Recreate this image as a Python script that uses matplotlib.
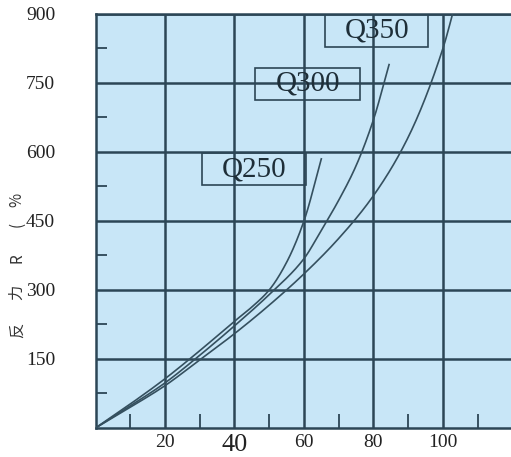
import matplotlib.pyplot as plt
from matplotlib.patches import Rectangle
import numpy as np

# curve data
q250_x = [0, 10, 20, 30, 40, 45, 50, 55, 60, 65]
q250_y = [0, 52, 107, 168, 232, 263, 300, 360, 450, 585]

q300_x = [0, 10, 20, 30, 40, 50, 60, 65, 70, 75, 80, 84.5]
q300_y = [0, 48, 98, 158, 222, 290, 368, 430, 495, 570, 670, 790]

q350_x = [0, 10, 20, 30, 40, 50, 60, 70, 80, 90, 100, 104]
q350_y = [0, 45, 92, 148, 205, 267, 335, 412, 505, 632, 825, 935]

series_names = ["Q250", "Q300", "Q350"]
x_ticks = [20, 40, 60, 80, 100]
x_tick_labels = ["20", "40", "60", "80", "100"]
y_ticks = [150, 300, 450, 600, 750, 900]
y_label_parts = ["反", "力", "R", "(", "%"]

bg = "#c8e6f7"
grid_col = "#2c4656"
line_col = "#35505f"

fig = plt.figure(figsize=(5.11, 4.57), dpi=100)
ax = fig.add_axes([0.1869, 0.0635, 0.8131, 0.9059])
ax.set_facecolor(bg)


def pchip(xs, ys, n=400):
    # monotone cubic hermite through the read points
    x = np.asarray(xs, float)
    y = np.asarray(ys, float)
    h = np.diff(x)
    d = np.diff(y) / h
    m = np.zeros_like(y)
    for i in range(1, len(x) - 1):
        if d[i - 1] * d[i] > 0:
            w1 = 2 * h[i] + h[i - 1]
            w2 = h[i] + 2 * h[i - 1]
            m[i] = (w1 + w2) / (w1 / d[i - 1] + w2 / d[i])
    m[0] = d[0]
    m[-1] = d[-1]
    xx = np.linspace(x[0], x[-1], n)
    idx = np.clip(np.searchsorted(x, xx) - 1, 0, len(x) - 2)
    t = (xx - x[idx]) / h[idx]
    h00 = 2 * t**3 - 3 * t**2 + 1
    h10 = t**3 - 2 * t**2 + t
    h01 = -2 * t**3 + 3 * t**2
    h11 = t**3 - t**2
    yy = h00 * y[idx] + h10 * h[idx] * m[idx] + h01 * y[idx + 1] + h11 * h[idx] * m[idx + 1]
    return xx, yy


for xs, ys in [(q250_x, q250_y), (q300_x, q300_y), (q350_x, q350_y)]:
    xx, yy = pchip(xs, ys)
    ax.plot(xx, yy, color=line_col, lw=1.2, zorder=3)

ax.set_xlim(0, 119.6)
ax.set_ylim(0, 900)

ax.set_xticks(x_ticks)
ax.set_xticklabels(x_tick_labels)
ax.set_yticks(y_ticks)
ax.set_xticks(np.arange(10, 120, 20), minor=True)
ax.set_yticks(np.arange(75, 900, 150), minor=True)
ax.grid(True, which="major", color=grid_col, lw=1.8, zorder=1)

ax.tick_params(axis="both", which="major", length=0)
ax.tick_params(axis="y", which="major", pad=29, labelsize=14, labelcolor="#222222")
ax.tick_params(axis="x", which="major", pad=4, labelsize=14, labelcolor="#222222")
ax.tick_params(axis="x", which="minor", direction="in", length=10, width=1.3, color=grid_col)
ax.tick_params(axis="y", which="minor", direction="in", length=8, width=1.3, color=grid_col)
for lab in ax.get_xticklabels() + ax.get_yticklabels():
    lab.set_family("Liberation Serif")
ax.get_xticklabels()[1].set_fontsize(19)

for side in ["left", "bottom", "top"]:
    ax.spines[side].set_color(grid_col)
    ax.spines[side].set_linewidth(1.8)
ax.spines["right"].set_visible(False)

# labelled boxes
boxes = [(30.6, 528, 30.0, 70, 563), (46.0, 713, 30.1, 70, 748), (66.2, 828, 29.5, 72, 864)]
for name, (bx, by, bw, bh, cy) in zip(series_names, boxes):
    ax.add_patch(Rectangle((bx, by), bw, bh, fill=False, ec=grid_col, lw=1.2, zorder=4))
    ax.text(bx + bw / 2, cy, name, ha="center", va="center", fontsize=21,
            family="Liberation Serif", color="#1e2e38", zorder=5)

# y axis title, letters spread out like the scan
for ch, py in zip(y_label_parts, [330, 292, 258, 224, 200]):
    fig.text(17 / 511, 1 - py / 457, ch, rotation=90, ha="center", va="center",
             fontsize=11, family=["Noto Sans CJK SC", "DejaVu Sans"], color="#333333")

fig.savefig("out.png", dpi=100, facecolor="white")
